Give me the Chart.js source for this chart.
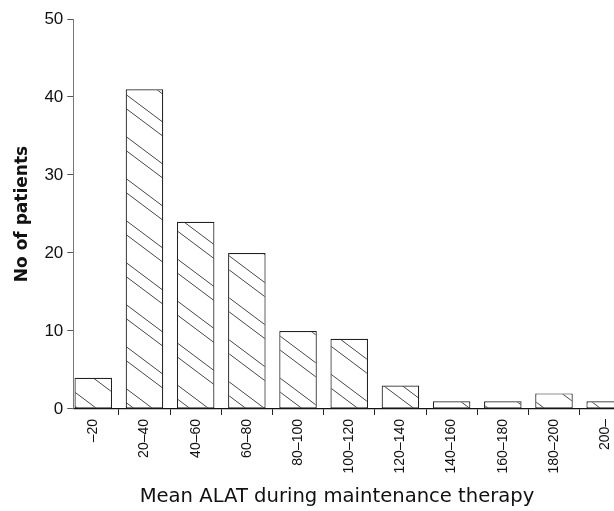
<!DOCTYPE html>
<html><head><meta charset="utf-8">
<script src="https://cdn.jsdelivr.net/npm/chart.js@4"></script>
<style>html,body{margin:0;padding:0;background:#fff;overflow:hidden;width:614px;height:511px}#wrap{width:662px;height:511px;position:relative}</style>
</head><body><div id="wrap"><canvas id="c"></canvas></div>
<script>
const categories = ['\u201320','20\u201340','40\u201360','60\u201380','80\u2013100','100\u2013120','120\u2013140','140\u2013160','160\u2013180','180\u2013200','200\u2013'];
const patients = [4,41,24,20,10,9,3,1,1,2,1];
const yTicks = [0,10,20,30,40,50];

const TICKFONT = "'Liberation Sans', Arial, Helvetica, sans-serif";
const TITLEFONT = "'DejaVu Sans', sans-serif";

function hatch(){
  const w=56,h=42,cv=document.createElement('canvas');cv.width=w;cv.height=h;
  const g=cv.getContext('2d');g.fillStyle='#fff';g.fillRect(0,0,w,h);
  g.strokeStyle='#333';g.lineWidth=0.9;
  for(const c of [0,14]){for(let k=-2;k<=2;k++){g.beginPath();g.moveTo(0,c+k*h);g.lineTo(w,c+k*h+h);g.stroke();}}
  return g.createPattern(cv,'repeat');
}
const ctx=document.getElementById('c').getContext('2d');
new Chart(ctx,{
  type:'bar',
  data:{datasets:[{data:patients.map((v,i)=>({x:i,y:v})),backgroundColor:hatch(),borderColor:'#222',borderWidth:1.2,borderSkipped:false,categoryPercentage:0.733,barPercentage:1}]},
  options:{
    responsive:true,maintainAspectRatio:false,animation:false,
    layout:{padding:{top:19,left:12,right:0,bottom:2}},
    plugins:{legend:{display:false},tooltip:{enabled:false},
      title:{display:true,position:'bottom',text:'Mean ALAT during maintenance therapy',color:'#111',font:{family:TITLEFONT,size:19.6,weight:'normal'},padding:{top:8,bottom:0}}
    },
    scales:{
      x:{type:'linear',min:-0.39,max:11.11,offset:false,
        afterBuildTicks:a=>{a.ticks=categories.map((_,i)=>({value:i}));},
        grid:{drawOnChartArea:false,drawTicks:true,tickLength:6,tickColor:'#222'},
        border:{display:true,color:'#111',width:1.3},
        ticks:{autoSkip:false,minRotation:90,maxRotation:90,padding:4,color:'#111',font:{family:TICKFONT,size:14},callback:v=>categories[v]}
      },
      y:{min:0,max:50,
        afterBuildTicks:a=>{a.ticks=yTicks.map(v=>({value:v}));},
        grid:{drawOnChartArea:false,drawTicks:true,tickLength:6,tickColor:'#555'},
        border:{display:true,color:'#777',width:1,dash:[5,3]},
        ticks:{padding:4,color:'#111',font:{family:TICKFONT,size:17}},
        title:{display:true,text:'No of patients',color:'#111',font:{family:TITLEFONT,size:17,weight:'bold'},padding:{top:0,bottom:8}}
      }
    }
  }
});
</script></body></html>
